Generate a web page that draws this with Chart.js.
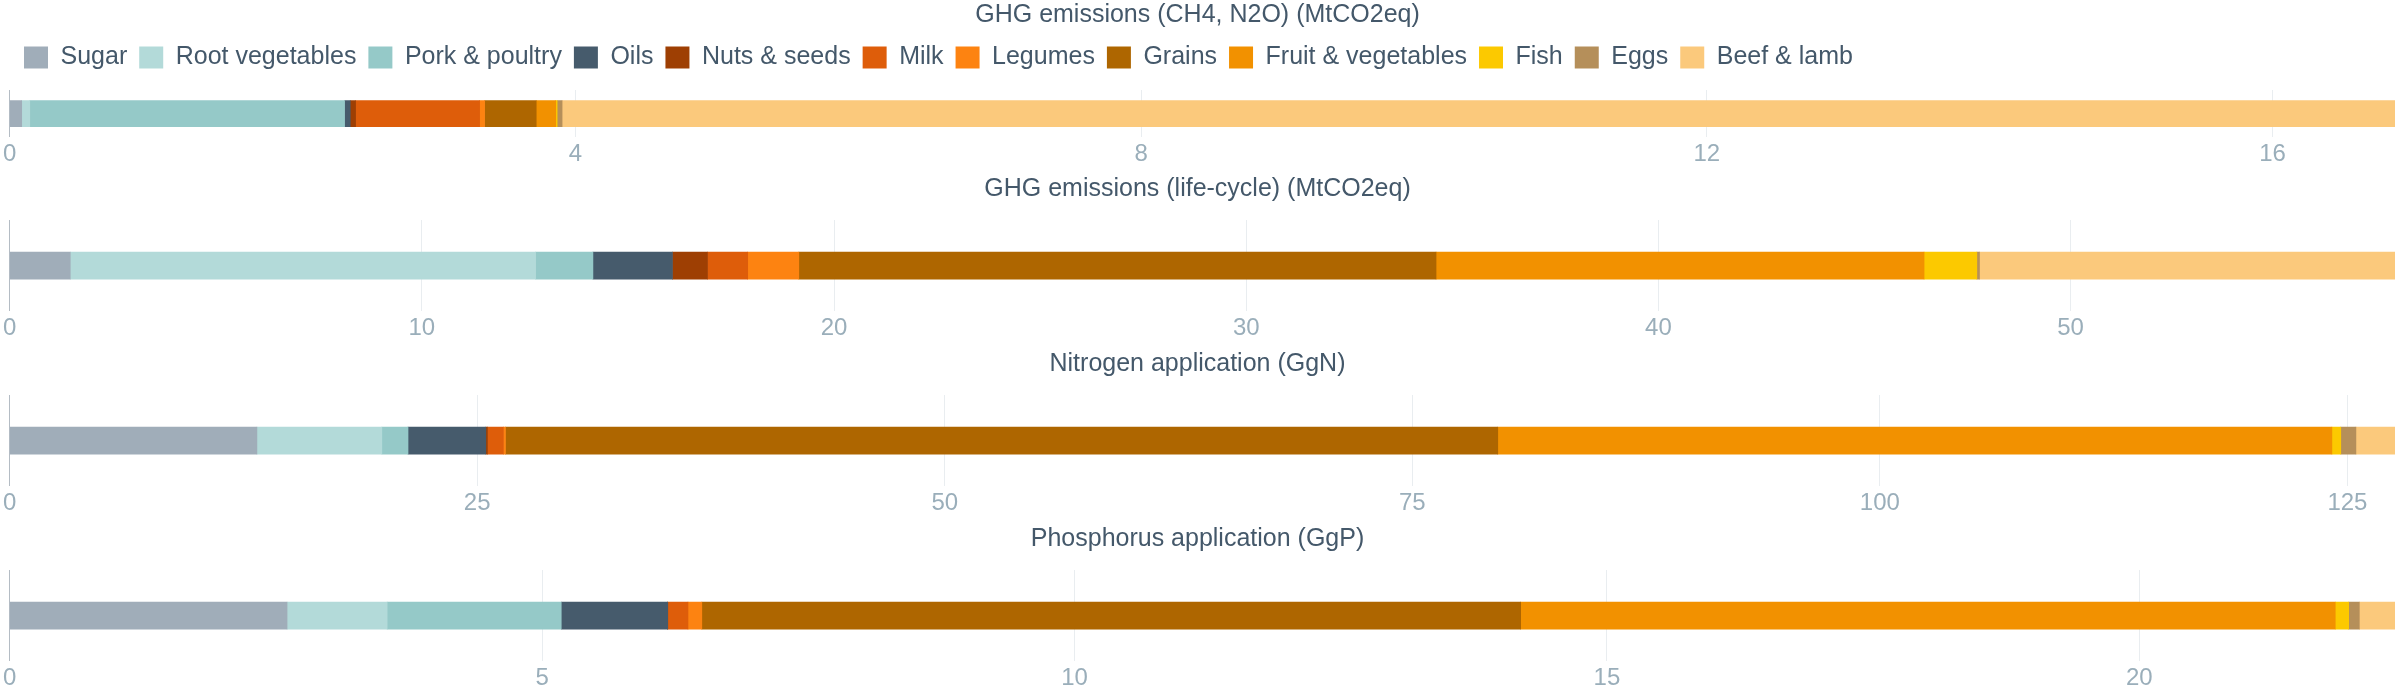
<!DOCTYPE html>
<html>
<head>
<meta charset="utf-8">
<title>Food system footprints</title>
<script src="https://cdn.jsdelivr.net/npm/chart.js@4.4.1/dist/chart.umd.min.js"></script>
<style>
    body {
        margin: 0;
        background: #ffffff;
        width: 2400px;
        height: 700px;
        overflow: hidden;
        position: relative;
    }
    .panel {
        position: absolute;
        left: 0;
        width: 2400px;
    }
</style>
</head>
<body>
<div class="panel" style="top: 0px; height: 174px"><canvas id="chart0"></canvas></div>
<div class="panel" style="top: 170px; height: 178px"><canvas id="chart1"></canvas></div>
<div class="panel" style="top: 345px; height: 178px"><canvas id="chart2"></canvas></div>
<div class="panel" style="top: 520px; height: 178px"><canvas id="chart3"></canvas></div>

<script>
// --- Data ---
const categories = [
    "Sugar",
    "Root vegetables",
    "Pork & poultry",
    "Oils",
    "Nuts & seeds",
    "Milk",
    "Legumes",
    "Grains",
    "Fruit & vegetables",
    "Fish",
    "Eggs",
    "Beef & lamb",
];

const metrics = [
    "GHG emissions (CH4, N2O) (MtCO2eq)",
    "GHG emissions (life-cycle) (MtCO2eq)",
    "Nitrogen application (GgN)",
    "Phosphorus application (GgP)",
];

// values follow the order of categories
const ghgDirect = [0.085, 0.057, 2.226, 0.04, 0.038, 0.877, 0.035, 0.365, 0.138, 0.01, 0.035, 12.96];
const ghgLifecycle = [1.47, 11.29, 1.39, 1.93, 0.85, 0.975, 1.24, 15.46, 11.84, 1.28, 0.065, 10.08];
const nitrogen = [13.22, 6.68, 1.4, 4.16, 0.09, 0.85, 0.11, 53.06, 44.6, 0.475, 0.81, 2.09];
const phosphorus = [2.605, 0.94, 1.635, 1.0, 0, 0.19, 0.13, 7.69, 7.65, 0.126, 0.1, 0.335];

const seriesValues = [ghgDirect, ghgLifecycle, nitrogen, phosphorus];
const tickSteps = [4, 10, 25, 5];

// --- Styles ---
const colors = [
    "#a0adb9", // Sugar
    "#b3dad9", // Root vegetables
    "#95c9c8", // Pork & poultry
    "#465b6c", // Oils
    "#9e3f03", // Nuts & seeds
    "#de5d0a", // Milk
    "#fd8311", // Legumes
    "#ae6600", // Grains
    "#f29100", // Fruit & vegetables
    "#fcc900", // Fish
    "#b58f5a", // Eggs
    "#fbc97c", // Beef & lamb
];
const textColor = "#44586a";
const tickColor = "#9aaeba";
const gridColor = "#e9edf0";
const zeroLineColor = "#b4bcc4";

Chart.defaults.font.family = '"Liberation Sans", Arial, sans-serif';

// nudge the legend right and leave some room under it
const legendTweak = {
    id: "legendTweak",
    beforeInit(chart) {
        if (!chart.legend) return;
        const origFit = chart.legend.fit;
        chart.legend.fit = function () {
            origFit.call(this);
            this.height += 10;
        };
    },
    afterLayout(chart) {
        if (chart.legend && chart.legend.options.display) {
            chart.legend.left += 12;
        }
    },
};

function buildChart(i) {
    const values = seriesValues[i];
    const total = values.reduce((a, b) => a + b, 0);
    const step = tickSteps[i];
    const first = i === 0;

    return new Chart(document.getElementById("chart" + i), {
        type: "bar",
        data: {
            labels: [""],
            datasets: categories.map((name, k) => ({
                label: name,
                data: [values[k]],
                backgroundColor: colors[k],
                borderWidth: 0,
                barThickness: first ? 26 : 27,
            })),
        },
        options: {
            indexAxis: "y",
            responsive: true,
            maintainAspectRatio: false,
            animation: false,
            layout: { padding: { left: 0, right: 5, top: 0, bottom: 2 } },
            plugins: {
                title: {
                    display: true,
                    text: metrics[i],
                    color: textColor,
                    font: { size: 25, weight: "normal" },
                    padding: first ? { top: 0, bottom: 3 } : { top: 4, bottom: 6 },
                },
                legend: {
                    display: first,
                    position: "top",
                    align: "start",
                    labels: {
                        boxWidth: 24,
                        boxHeight: 22,
                        padding: 12,
                        color: textColor,
                        font: { size: 25 },
                    },
                },
                tooltip: { enabled: false },
            },
            scales: {
                x: {
                    stacked: true,
                    min: 0,
                    max: total,
                    border: { display: false },
                    grid: {
                        drawTicks: false,
                        color: (ctx) =>
                            ctx.tick && ctx.tick.value === 0 ? zeroLineColor : gridColor,
                    },
                    ticks: {
                        padding: 3,
                        color: tickColor,
                        font: { size: 24 },
                        maxRotation: 0,
                        autoSkip: false,
                    },
                    // ticks at whole steps only, no extra tick at the max
                    afterBuildTicks: (axis) => {
                        const ticks = [];
                        for (let v = 0; v <= total + 1e-9; v += step) {
                            ticks.push({ value: v });
                        }
                        axis.ticks = ticks;
                    },
                },
                y: {
                    stacked: true,
                    display: false,
                },
            },
        },
        plugins: [legendTweak],
    });
}

seriesValues.forEach((_, i) => buildChart(i));
</script>
</body>
</html>
